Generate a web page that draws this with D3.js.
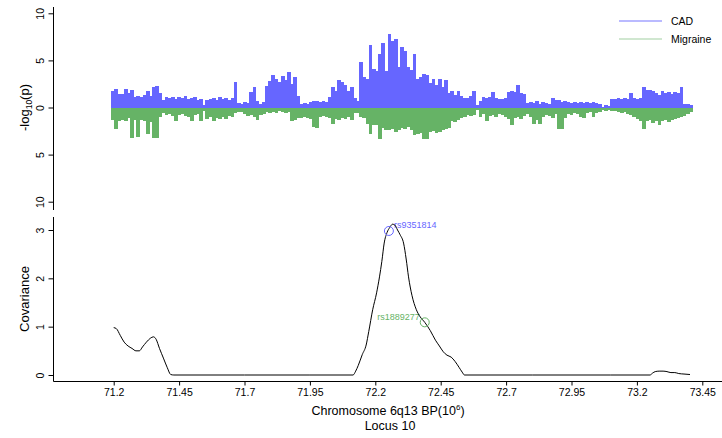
<!DOCTYPE html>
<html>
<head>
<meta charset="utf-8">
<script src="https://cdn.jsdelivr.net/npm/d3@7"></script>
<style>
  body { margin: 0; background: #fff; }
  svg { display: block; font-family: "Liberation Sans", Arial, Helvetica, sans-serif; }
</style>
</head>
<body>
<div id="chart"></div>
<script>
// SNP positions (Mb) for the -log10(p) bars
const snpPos = [
  71.198, 71.210, 71.222, 71.234, 71.246, 71.258, 71.270, 71.282, 71.294, 71.306,
  71.318, 71.330, 71.342, 71.354, 71.366, 71.378, 71.390, 71.402, 71.414, 71.426,
  71.438, 71.450, 71.462, 71.474, 71.486, 71.498, 71.510, 71.522, 71.534, 71.546,
  71.558, 71.570, 71.582, 71.594, 71.606, 71.618, 71.630, 71.642, 71.654, 71.666,
  71.678, 71.690, 71.702, 71.714, 71.726, 71.738, 71.750, 71.762, 71.774, 71.786,
  71.798, 71.810, 71.822, 71.834, 71.846, 71.858, 71.870, 71.882, 71.894, 71.906,
  71.918, 71.930, 71.942, 71.954, 71.966, 71.978, 71.990, 72.002, 72.014, 72.026,
  72.038, 72.050, 72.062, 72.074, 72.086, 72.098, 72.110, 72.122, 72.134, 72.146,
  72.158, 72.170, 72.182, 72.194, 72.206, 72.218, 72.230, 72.242, 72.254, 72.266,
  72.278, 72.290, 72.302, 72.314, 72.326, 72.338, 72.350, 72.362, 72.374, 72.386,
  72.398, 72.410, 72.422, 72.434, 72.446, 72.458, 72.470, 72.482, 72.494, 72.506,
  72.518, 72.530, 72.542, 72.554, 72.566, 72.578, 72.590, 72.602, 72.614, 72.626,
  72.638, 72.650, 72.662, 72.674, 72.686, 72.698, 72.710, 72.722, 72.734, 72.746,
  72.758, 72.770, 72.782, 72.794, 72.806, 72.818, 72.830, 72.842, 72.854, 72.866,
  72.878, 72.890, 72.902, 72.914, 72.926, 72.938, 72.950, 72.962, 72.974, 72.986,
  72.998, 73.010, 73.022, 73.034, 73.046, 73.058, 73.070, 73.082, 73.094, 73.106,
  73.118, 73.130, 73.142, 73.154, 73.166, 73.178, 73.190, 73.202, 73.214, 73.226,
  73.238, 73.250, 73.262, 73.274, 73.286, 73.298, 73.310, 73.322, 73.334, 73.346,
  73.358, 73.370, 73.382, 73.394, 73.406
];

// -log10(p), CAD (drawn upward)
const cadLogP = [
  1.7, 2.0, 1.4, 1.4, 2.0, 1.5, 1.9, 1.1, 1.2, 1.1,
  1.3, 1.7, 1.2, 2.2, 2.3, 1.5, 0.8, 1.1, 1.0, 1.1,
  0.9, 1.1, 1.0, 1.2, 0.9, 1.0, 1.1, 0.8, 0.9, 0.3,
  0.8, 0.9, 1.0, 0.8, 1.1, 0.9, 1.0, 0.8, 1.0, 2.7,
  0.5, 0.4, 0.6, 0.5, 1.6, 2.2, 0.7, 0.4, 0.6, 2.3,
  2.8, 3.5, 3.0, 2.7, 3.3, 2.9, 3.8, 2.5, 3.2, 1.2,
  0.4, 0.5, 0.4, 0.6, 0.7, 0.7, 0.6, 0.7, 0.6, 1.1,
  2.2, 1.7, 2.9, 2.7, 2.4, 1.8, 2.2, 1.0, 0.7, 4.8,
  3.2, 3.0, 6.6, 4.1, 3.9, 5.7, 6.9, 3.9, 7.8, 7.1,
  7.3, 4.3, 6.4, 6.0, 4.3, 4.0, 5.7, 3.0, 3.2, 3.6,
  3.4, 2.6, 3.0, 2.4, 3.0, 2.2, 2.9, 1.5, 1.7, 1.3,
  1.7, 1.2, 1.0, 1.0, 1.2, 1.7, 0.3, 0.7, 1.1, 1.0,
  1.1, 1.6, 1.0, 0.9, 0.9, 1.0, 1.6, 1.7, 1.6, 2.4,
  1.5, 1.4, 0.5, 0.6, 0.5, 0.7, 0.4, 0.6, 0.5, 0.4,
  1.0, 0.8, 0.8, 0.6, 0.7, 0.6, 0.5, 0.6, 0.5, 0.6,
  0.5, 0.6, 0.5, 0.6, 0.5, 0.4, 0.1, 0.3, 0.2, 0.9,
  0.9, 1.0, 0.9, 1.0, 0.9, 1.5, 1.0, 0.9, 1.0, 2.2,
  1.9, 1.9, 1.8, 1.5, 1.3, 1.7, 1.5, 1.6, 1.4, 1.6,
  1.5, 2.2, 0.4, 0.4, 0.3
];

// -log10(p), Migraine (drawn downward)
const migraineLogP = [
  1.3, 2.3, 1.4, 1.3, 1.4, 1.1, 3.2, 1.3, 3.1, 1.3,
  1.4, 2.8, 1.5, 3.2, 3.2, 1.0, 0.6, 0.8, 0.7, 0.9,
  1.4, 0.8, 0.7, 0.9, 1.0, 1.4, 0.8, 0.7, 1.4, 0.4,
  1.2, 1.0, 1.4, 1.1, 1.2, 1.0, 1.2, 0.9, 1.0, 0.6,
  0.5, 0.5, 0.7, 0.9, 0.8, 1.0, 1.3, 0.8, 0.7, 0.5,
  0.6, 0.5, 0.6, 0.4, 0.5, 0.6, 0.5, 1.4, 1.3, 1.1,
  1.1, 1.0, 1.1, 1.2, 2.1, 2.2, 1.0, 0.9, 1.0, 1.1,
  1.7, 1.2, 1.3, 1.1, 1.2, 1.0, 1.3, 0.6, 0.6, 1.0,
  1.1, 1.7, 2.8, 1.9, 1.9, 3.3, 2.2, 2.4, 2.4, 2.3,
  2.6, 2.4, 2.2, 2.3, 2.1, 2.4, 2.9, 2.8, 2.7, 3.3,
  3.3, 2.6, 2.5, 2.7, 2.6, 2.4, 2.3, 2.2, 1.4, 1.5,
  1.3, 1.1, 1.0, 0.8, 0.9, 0.8, 0.3, 1.0, 0.7, 1.4,
  0.9, 0.8, 1.0, 0.7, 0.8, 1.0, 1.2, 1.9, 1.1, 1.0,
  1.2, 0.9, 0.7, 1.0, 1.8, 1.3, 1.8, 1.0, 0.8, 0.9,
  1.1, 0.7, 2.3, 2.3, 1.1, 0.7, 0.8, 0.6, 0.7, 1.0,
  1.1, 0.6, 0.5, 1.0, 0.6, 0.5, 0.3, 0.4, 0.3, 0.4,
  0.4, 0.5, 0.6, 0.5, 0.7, 0.8, 1.0, 1.2, 1.4, 2.3,
  1.4, 1.3, 1.6, 1.4, 1.9, 1.4, 1.3, 1.5, 1.3, 1.2,
  1.1, 1.0, 0.9, 0.7, 0.5
];

// covariance curve
const covPos = [
  71.200, 71.210, 71.225, 71.240, 71.255, 71.270, 71.285, 71.298, 71.310, 71.325,
  71.340, 71.352, 71.362, 71.375, 71.390, 71.405, 71.418, 71.430, 71.700, 71.950,
  72.115, 72.125, 72.135, 72.150, 72.165, 72.175, 72.190, 72.205, 72.216, 72.225,
  72.234, 72.245, 72.255, 72.266, 72.275, 72.285, 72.295, 72.308, 72.318, 72.327,
  72.340, 72.357, 72.372, 72.389, 72.410, 72.430, 72.445, 72.460, 72.474, 72.490,
  72.505, 72.520, 72.532, 72.541, 72.800, 73.100, 73.250, 73.260, 73.270, 73.285,
  73.300, 73.315, 73.330, 73.345, 73.360, 73.380, 73.403
];
const covValue = [
  0.98, 0.96, 0.82, 0.68, 0.60, 0.55, 0.50, 0.50, 0.58, 0.68,
  0.76, 0.79, 0.74, 0.55, 0.35, 0.15, 0.01, 0.00, 0.00, 0.00,
  0.00, 0.08, 0.20, 0.42, 0.62, 0.90, 1.35, 1.70, 2.03, 2.35,
  2.73, 2.95, 3.05, 3.12, 3.10, 3.00, 2.90, 2.73, 2.40, 2.03,
  1.65, 1.35, 1.20, 1.09, 0.92, 0.72, 0.60, 0.48, 0.41, 0.37,
  0.28, 0.16, 0.06, 0.00, 0.00, 0.00, 0.00, 0.04, 0.07, 0.08,
  0.08, 0.07, 0.05, 0.05, 0.03, 0.02, 0.01
];

const xTicks = [71.2, 71.45, 71.7, 71.95, 72.2, 72.45, 72.7, 72.95, 73.2, 73.45];
const logPTicks = [-10, -5, 0, 5, 10];
const covTicks = [0, 1, 2, 3];

const seriesNames = ["CAD", "Migraine"];
const snpLabels = [
  { name: "rs9351814", pos: 72.252, cov: 2.98 },
  { name: "rs1889277", pos: 72.389, cov: 1.09 }
];

const width = 722;
const height = 438;
const blue = "#6666ff";
const green = "#66b366";

const svg = d3.select("#chart")
  .append("svg")
  .attr("width", width)
  .attr("height", height);

const x = d3.scaleLinear()
  .domain([71.2, 73.45])
  .range([113.7, 702.3]);

const yTop = d3.scaleLinear()
  .domain([-10, 10])
  .range([201.7, 13.3]);

const yBot = d3.scaleLinear()
  .domain([0, 3])
  .range([375, 230]);

const axisX = 53.5;

// ---- top panel: bars
const barW = x(snpPos[1]) - x(snpPos[0]) + 0.6;

svg.append("g")
  .attr("fill", blue)
  .attr("shape-rendering", "crispEdges")
  .selectAll("rect")
  .data(snpPos)
  .join("rect")
    .attr("x", (d) => x(d) - barW / 2)
    .attr("y", (d, i) => yTop(cadLogP[i]))
    .attr("width", barW)
    .attr("height", (d, i) => yTop(0) - yTop(cadLogP[i]));

svg.append("g")
  .attr("fill", green)
  .attr("shape-rendering", "crispEdges")
  .selectAll("rect")
  .data(snpPos)
  .join("rect")
    .attr("x", (d) => x(d) - barW / 2)
    .attr("y", yTop(0))
    .attr("width", barW)
    .attr("height", (d, i) => yTop(-migraineLogP[i]) - yTop(0));

// top y axis
svg.append("line")
  .attr("x1", axisX).attr("x2", axisX)
  .attr("y1", 7).attr("y2", 210)
  .attr("stroke", "#000");

function rotatedLeftAxis(g, scale, ticks, fmt) {
  g.attr("transform", `translate(${axisX},0)`)
    .call(d3.axisLeft(scale).tickValues(ticks).tickSize(5).tickSizeOuter(0).tickFormat(fmt))
    .call((g) => g.select(".domain").remove())
    .call((g) => g.selectAll(".tick line").attr("stroke", "#000"))
    .call((g) => g.selectAll(".tick text")
      .attr("x", 0)
      .attr("y", -9.5)
      .attr("dy", 0)
      .attr("text-anchor", "middle")
      .attr("transform", "rotate(-90)")
      .attr("fill", "#000")
      .attr("font-size", "10.5px"));
}

svg.append("g").call(rotatedLeftAxis, yTop, logPTicks, (d) => Math.abs(d));

const ylab = svg.append("text")
  .attr("transform", `translate(29,${yTop(0)}) rotate(-90)`)
  .attr("text-anchor", "middle")
  .attr("font-size", "13px");
ylab.append("tspan").text("-log");
ylab.append("tspan").attr("font-size", "8.5px").attr("dy", 3).text("10");
ylab.append("tspan").attr("dy", -3).text("(p)");

// legend
const legend = svg.append("g");
seriesNames.forEach((name, i) => {
  legend.append("line")
    .attr("x1", 619).attr("x2", 662)
    .attr("y1", 21 + i * 18).attr("y2", 21 + i * 18)
    .attr("stroke", i === 0 ? blue : green)
    .attr("stroke-opacity", i === 0 ? 0.9 : 0.6)
    .attr("stroke-width", 1.2);
  legend.append("text")
    .attr("x", 671)
    .attr("y", 25 + i * 18)
    .attr("font-size", "10.5px")
    .text(name);
});

// ---- bottom panel
svg.append("line")
  .attr("x1", axisX).attr("x2", axisX)
  .attr("y1", 217).attr("y2", 381.5)
  .attr("stroke", "#000");
svg.append("line")
  .attr("x1", axisX).attr("x2", width)
  .attr("y1", 381.5).attr("y2", 381.5)
  .attr("stroke", "#000");

svg.append("g").call(rotatedLeftAxis, yBot, covTicks, d3.format("d"));

svg.append("g")
  .attr("transform", "translate(0,381.5)")
  .call(d3.axisBottom(x).tickValues(xTicks).tickSize(4).tickSizeOuter(0).tickFormat((d) => d))
  .call((g) => g.select(".domain").remove())
  .call((g) => g.selectAll(".tick line").attr("stroke", "#000"))
  .call((g) => g.selectAll(".tick text")
    .attr("y", 7)
    .attr("fill", "#000")
    .attr("font-size", "10.5px"));

svg.append("text")
  .attr("transform", "translate(29,299) rotate(-90)")
  .attr("text-anchor", "middle")
  .attr("font-size", "13px")
  .text("Covariance");

// snp labels
svg.append("text")
  .attr("x", x(snpLabels[0].pos) + 5)
  .attr("y", yBot(snpLabels[0].cov) - 3)
  .attr("fill", blue)
  .attr("font-size", "9px")
  .text(snpLabels[0].name);

svg.append("text")
  .attr("x", x(snpLabels[1].pos) - 5)
  .attr("y", yBot(snpLabels[1].cov) - 2)
  .attr("text-anchor", "end")
  .attr("fill", green)
  .attr("font-size", "9px")
  .text(snpLabels[1].name);

const line = d3.line()
  .x((d) => x(d))
  .y((d, i) => yBot(covValue[i]))
  .curve(d3.curveMonotoneX);

svg.append("path")
  .datum(covPos)
  .attr("fill", "none")
  .attr("stroke", "#000")
  .attr("stroke-width", 1)
  .attr("d", line);

svg.append("circle")
  .attr("cx", x(snpLabels[0].pos))
  .attr("cy", yBot(snpLabels[0].cov))
  .attr("r", 4.5)
  .attr("fill", "none")
  .attr("stroke", blue);

svg.append("circle")
  .attr("cx", x(snpLabels[1].pos))
  .attr("cy", yBot(snpLabels[1].cov))
  .attr("r", 4.5)
  .attr("fill", "none")
  .attr("stroke", green);

// x titles
const xt = svg.append("text")
  .attr("x", 388)
  .attr("y", 415)
  .attr("text-anchor", "middle")
  .attr("font-size", "12.5px");
xt.append("tspan").text("Chromosome 6q13 BP(10");
xt.append("tspan").attr("font-size", "8px").attr("dy", -5).text("6");
xt.append("tspan").attr("dy", 5).text(")");

svg.append("text")
  .attr("x", 390)
  .attr("y", 430)
  .attr("text-anchor", "middle")
  .attr("font-size", "12.5px")
  .text("Locus 10");
</script>
</body>
</html>
